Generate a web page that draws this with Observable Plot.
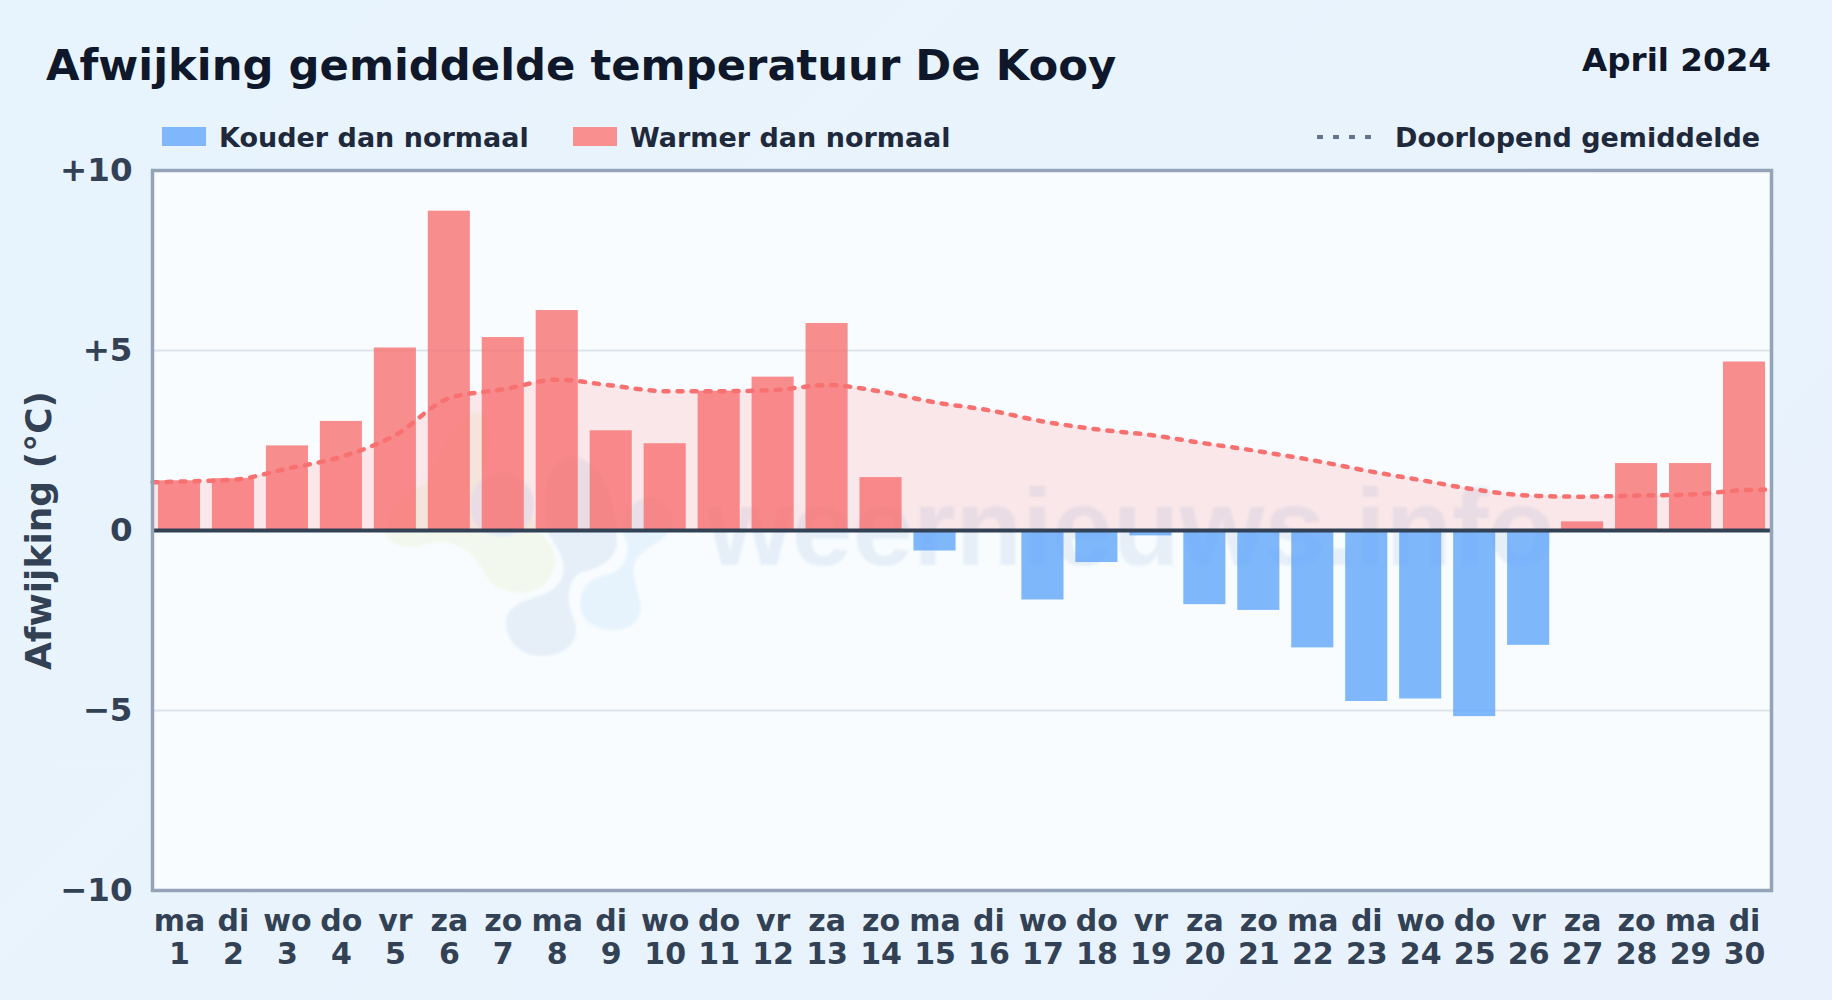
<!DOCTYPE html>
<html><head><meta charset="utf-8">
<script src="https://cdn.jsdelivr.net/npm/d3@7"></script>
<script src="https://cdn.jsdelivr.net/npm/@observablehq/plot@0.6"></script>
<style>
html,body{margin:0;padding:0;width:1832px;height:1000px;overflow:hidden;font-family:"DejaVu Sans",sans-serif;font-weight:700}
body{background:linear-gradient(135deg,#e8f4fd,#e9f2fc);position:relative}
.abs{position:absolute;white-space:nowrap;line-height:1}
#frame{left:152px;top:170px;width:1619px;height:720px;background:#f8fcff}
#plot{left:0;top:150px}
#plot svg{background:transparent!important;display:block}
.sw{width:43.5px;height:19px;top:127px}
.lg{font-size:27px;color:#1e293b;top:124px}
</style></head><body>
<div id="frame" class="abs"></div>
<svg class="abs" style="left:0;top:0;filter:blur(1px)" width="1832" height="1000">
<path fill="#f3f8ee" d="M385 533C390 510 405 490 425 485C440 460 455 415 478 413C495 415 490 460 480 475C500 500 530 500 540 533C555 545 560 560 552 573C545 590 530 593 520 593C500 592 492 585 487 577C478 560 468 548 450 543C430 540 420 548 410 547C395 547 388 540 385 533Z"/>
<circle cx="502" cy="505" r="32" fill="#e6eff8"/>
<path fill="#e6eff8" d="M548 533C540 500 545 458 572 456C600 458 618 500 617 543C615 560 600 568 580 573C568 580 566 600 572 615C585 640 565 656 542 656C520 656 506 640 506 623C506 608 520 602 535 597C555 592 566 580 563 563C560 550 555 545 548 533Z"/>
<path fill="#e7f3fc" d="M623 533C622 515 632 498 650 498C668 498 678 520 668 533C660 545 640 548 634 565C632 580 640 595 641 607C640 625 625 631 613 630C595 630 580 620 580 605C580 588 590 578 605 575C620 572 630 560 627 543Z"/>
<text x="707" y="565" font-family="Liberation Sans" font-weight="700" font-size="109" fill="#e6eff8">weernieuws.info</text>
</svg>
<div class="abs" style="left:46px;top:44px;font-size:43.3px;color:#0f172a">Afwijking gemiddelde temperatuur De Kooy</div>
<div class="abs" style="right:61px;top:44px;font-size:32.6px;color:#0f172a">April 2024</div>
<div class="abs sw" style="left:162px;background:#80b7fb"></div>
<div class="abs lg" style="left:219px">Kouder dan normaal</div>
<div class="abs sw" style="left:573px;background:#fa8f8f"></div>
<div class="abs lg" style="left:630px">Warmer dan normaal</div>
<svg class="abs" style="left:1317px;top:133px" width="60" height="8"><line x1="0" x2="60" y1="4" y2="4" stroke="#64748b" stroke-width="4" stroke-dasharray="6 10"/></svg>
<div class="abs lg" style="left:1395px">Doorlopend gemiddelde</div>
<div id="plot" class="abs"></div>
<script>
const dayNames = ["ma","di","wo","do","vr","za","zo","ma","di","wo","do","vr","za","zo","ma","di","wo","do","vr","za","zo","ma","di","wo","do","vr","za","zo","ma","di"];
const days = dayNames.map((_, i) => i + 1);
const afwijking = [1.38,1.44,2.35,3.03,5.07,8.87,5.36,6.11,2.77,2.41,3.87,4.26,5.75,1.47,-0.57,0,-1.93,-0.89,-0.15,-2.06,-2.22,-3.26,-4.75,-4.68,-5.17,-3.19,0.24,1.86,1.86,4.68];
const gemX = [0.5,1,2,3,4,5,6,7,8,9,10,11,12,13,14,15,16,17,18,19,20,21,22,23,24,25,26,27,28,29,30,30.5];
const gemY = [1.34,1.36,1.41,1.72,2.05,2.65,3.68,3.92,4.19,4.03,3.87,3.87,3.90,4.04,3.86,3.56,3.34,3.03,2.81,2.65,2.42,2.20,1.95,1.66,1.40,1.14,0.97,0.94,0.97,1.00,1.12,1.14];
const yTicks = [-10,-5,0,5,10];
const yLabels = ["\u221210","\u22125","0","+5","+10"];
const barHalf = 0.39;
const bars = days.map((d, i) => ({d, v: afwijking[i]}));
const gem = gemX.map((x, i) => ({x, y: gemY[i]}));
const chart = Plot.plot({
  width: 1832, height: 850,
  marginLeft: 152, marginRight: 61, marginTop: 20, marginBottom: 110,
  style: {background: "transparent", fontFamily: "DejaVu Sans", fontWeight: 700},
  x: {domain: [0.5, 30.5], label: null},
  y: {domain: [-10, 10], label: null},
  marks: [
    Plot.gridY([-5, 5], {stroke: "#dde5ec", strokeOpacity: 1, strokeWidth: 2}),
    Plot.areaY(gem, {x: "x", y: "y", y1: 0, y2: "y", curve: "monotone-x", fill: "#ff7070", fillOpacity: 0.15}),
    Plot.rectY(bars, {x1: d => d.d - barHalf, x2: d => d.d + barHalf, y1: 0, y2: "v", fill: d => d.v < 0 ? "#60a5fa" : "#f87171", fillOpacity: 0.8}),
    Plot.line(gem, {x: "x", y: "y", curve: "monotone-x", stroke: "#f87171", strokeWidth: 4.5, strokeDasharray: "5 9", strokeLinecap: "round"}),
    Plot.ruleY([0], {stroke: "#334155", strokeWidth: 4}),
    Plot.frame({stroke: "#94a3b8", strokeWidth: 3.5}),
    Plot.axisY({ticks: yTicks, tickSize: 0, tickPadding: 20, label: null, fontSize: 32.5, fill: "#334155", tickFormat: t => yLabels[yTicks.indexOf(t)]}),
    Plot.text(["Afwijking (°C)"], {frameAnchor: "left", textAnchor: "middle", rotate: -90, dx: -113, fontSize: 36, fill: "#334155"}),
    Plot.axisX({ticks: days, tickSize: 0, tickPadding: 16, label: null, fontSize: 30, fill: "#334155", lineHeight: 1.13, tickFormat: d => dayNames[d - 1] + "\n" + d})
  ]
});
document.getElementById("plot").appendChild(chart);
</script>
</body></html>
